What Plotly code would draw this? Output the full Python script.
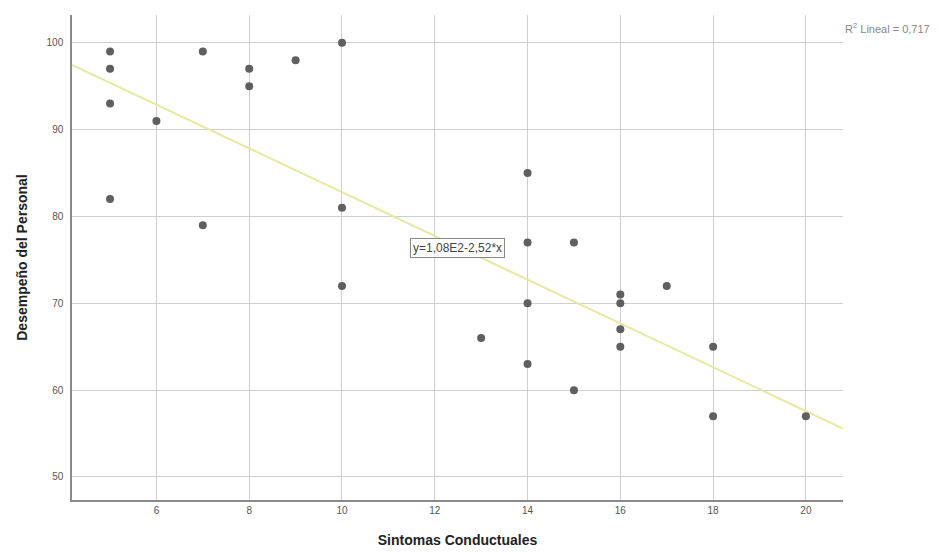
import numpy as np
import plotly.graph_objects as go

# Data
sintomas = [5, 5, 5, 5, 6, 7, 7, 8, 8, 9, 10, 10, 10, 13, 14, 14, 14, 14,
            15, 15, 16, 16, 16, 16, 17, 18, 18, 20]
desempeno = [99, 97, 93, 82, 91, 99, 79, 97, 95, 98, 100, 81, 72, 66, 85, 77, 70, 63,
             77, 60, 71, 70, 67, 65, 72, 65, 57, 57]

intercept = 108.0
slope = -2.52
r2_text = "R<sup>2</sup> Lineal = 0,717"
eq_text = "y=1,08E2-2,52*x"

x_range = [4.18, 20.8]
y_range = [47.35, 103.2]

fit_x = np.array(x_range)
fit_y = intercept + slope * fit_x

fig = go.Figure()
fig.add_trace(go.Scatter(
    x=fit_x, y=fit_y, mode="lines",
    line=dict(color="rgb(232,232,160)", width=2),
    hoverinfo="skip", showlegend=False,
))
fig.add_trace(go.Scatter(
    x=sintomas, y=desempeno, mode="markers",
    marker=dict(color="#5f5f5f", size=8),
    showlegend=False,
))

fig.add_annotation(
    x=12.48, y=76.4, xref="x", yref="y", text=eq_text, showarrow=False,
    font=dict(family="Arial, Liberation Sans, sans-serif", size=12, color="#444"),
    bgcolor="white", bordercolor="#888", borderwidth=1, borderpad=2,
)
fig.add_annotation(
    x=1.0, y=0.973, xref="paper", yref="paper", text=r2_text, showarrow=False,
    xanchor="left", yanchor="middle",
    font=dict(family="Arial, Liberation Sans, sans-serif", size=11, color="#888"),
)

fig.update_layout(
    width=938, height=556,
    margin=dict(l=64, r=103, t=7, b=64),
    paper_bgcolor="white", plot_bgcolor="white",
    font=dict(family="Arial, Liberation Sans, sans-serif"),
)
fig.update_xaxes(
    range=x_range, tickvals=[6, 8, 10, 12, 14, 16, 18, 20],
    showgrid=True, gridcolor="#cfcfcf", gridwidth=1,
    showline=True, linecolor="#8a8a8a", linewidth=1.5, mirror=False,
    zeroline=False, ticks="", tickfont=dict(size=10, color="#555"),
    title=dict(text="<b>Sintomas Conductuales</b>", font=dict(size=14, color="#222"), standoff=20),
)
fig.update_yaxes(
    range=y_range, tickvals=[50, 60, 70, 80, 90, 100],
    showgrid=True, gridcolor="#cfcfcf", gridwidth=1,
    showline=True, linecolor="#8a8a8a", linewidth=1.5, mirror=False,
    zeroline=False, ticks="", tickfont=dict(size=10, color="#555"),
    ticklabelstandoff=5,
    title=dict(text="<b>Desempeño del Personal</b>", font=dict(size=14, color="#222"), standoff=16),
)

fig.write_html("out.html")
